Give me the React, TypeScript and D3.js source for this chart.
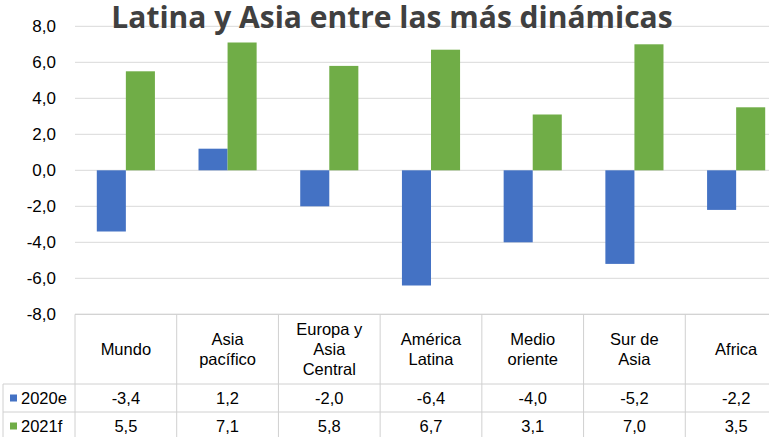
import React from "react";
import * as d3 from "d3";

const categories = [
  "Mundo",
  "Asia pacífico",
  "Europa y Asia Central",
  "América Latina",
  "Medio oriente",
  "Sur de Asia",
  "Africa",
];
const categoryLines = [
  ["Mundo"],
  ["Asia", "pacífico"],
  ["Europa y", "Asia", "Central"],
  ["América", "Latina"],
  ["Medio", "oriente"],
  ["Sur de", "Asia"],
  ["Africa"],
];
const seriesNames = ["2020e", "2021f"];
const values2020 = [-3.4, 1.2, -2.0, -6.4, -4.0, -5.2, -2.2];
const values2021 = [5.5, 7.1, 5.8, 6.7, 3.1, 7.0, 3.5];
const yTicks = [-8, -6, -4, -2, 0, 2, 4, 6, 8];
const colors = ["#4472C4", "#70AD47"];

const title = "Latina y Asia entre las más dinámicas";

const W = 769;
const H = 437;
const plotLeft = 75;
const plotRight = 787;
const plotTop = 26.3;
const plotBottom = 314.3;
const headerBottom = 384;
const row1Bottom = 412;
const row2Bottom = 440;
const legendLeft = 3;
const gridColor = "#D9D9D9";
const tableColor = "#D0D0D0";
const font = "'Liberation Sans', Arial, sans-serif";

const fmt = (v: number) => v.toFixed(1).replace(".", ",");

export default function App() {
  const x = d3.scaleBand<string>().domain(categories).range([plotLeft, plotRight]);
  const inner = d3
    .scaleBand<string>()
    .domain(seriesNames)
    .range([0, x.bandwidth()])
    .paddingInner(0)
    .paddingOuter(0.75);
  const y = d3.scaleLinear().domain([-8, 8]).range([plotBottom, plotTop]);

  const series = [values2020, values2021];
  const rowTops = [headerBottom, row1Bottom];
  const rowBottoms = [row1Bottom, row2Bottom];

  return (
    <div style={{ position: "fixed", left: 0, top: 0, width: W, height: H, overflow: "hidden", background: "#fff" }}>
      <svg width={W} height={H} style={{ display: "block" }}>
        {/* gridlines */}
        {yTicks.map((t) => (
          <line key={t} x1={plotLeft} x2={plotRight} y1={y(t)} y2={y(t)} stroke={gridColor} strokeWidth={1} />
        ))}
        {/* y labels */}
        {yTicks.map((t) => (
          <text
            key={"l" + t}
            x={56}
            y={y(t)}
            dy="0.35em"
            textAnchor="end"
            fontFamily={font}
            fontSize={17}
            fill="#000"
          >
            {fmt(t)}
          </text>
        ))}
        {/* bars */}
        {series.map((vals, si) =>
          vals.map((v, i) => {
            const bx = (x(categories[i]) ?? 0) + (inner(seriesNames[si]) ?? 0);
            return (
              <rect
                key={si + "-" + i}
                x={bx}
                y={Math.min(y(v), y(0))}
                width={inner.bandwidth()}
                height={Math.abs(y(v) - y(0))}
                fill={colors[si]}
              />
            );
          })
        )}
        {/* title */}
        <text
          x={392}
          y={28}
          textAnchor="middle"
          fontFamily="'Open Sans', sans-serif"
          fontWeight="bold"
          fontSize={30}
          fill="#404040"
        >
          {title}
        </text>
        {/* table lines */}
        <line x1={plotLeft} x2={plotRight} y1={plotBottom} y2={plotBottom} stroke={tableColor} />
        {[headerBottom, row1Bottom, row2Bottom].map((yy) => (
          <line key={"h" + yy} x1={legendLeft} x2={plotRight} y1={yy} y2={yy} stroke={tableColor} />
        ))}
        <line x1={legendLeft} x2={legendLeft} y1={headerBottom} y2={row2Bottom} stroke={tableColor} />
        {categories.map((c) => (
          <line
            key={"v" + c}
            x1={x(c)}
            x2={x(c)}
            y1={plotBottom}
            y2={row2Bottom}
            stroke={tableColor}
          />
        ))}
        <line x1={plotRight} x2={plotRight} y1={plotBottom} y2={row2Bottom} stroke={tableColor} />
        {/* header labels */}
        {categoryLines.map((lines, i) => {
          const cx = (x(categories[i]) ?? 0) + x.bandwidth() / 2;
          const mid = (plotBottom + headerBottom) / 2;
          const lh = 20;
          const start = mid - ((lines.length - 1) * lh) / 2;
          return lines.map((ln, j) => (
            <text
              key={i + "-" + j}
              x={cx}
              y={start + j * lh}
              dy="0.35em"
              textAnchor="middle"
              fontFamily={font}
              fontSize={16.5}
              fill="#000"
            >
              {ln}
            </text>
          ));
        })}
        {/* legend + values */}
        {series.map((vals, si) => {
          const cy = (rowTops[si] + rowBottoms[si]) / 2;
          return (
            <g key={"row" + si}>
              <rect x={10} y={cy - 3.5} width={7} height={7} fill={colors[si]} />
              <text x={21} y={cy} dy="0.35em" fontFamily={font} fontSize={16.5} fill="#000">
                {seriesNames[si]}
              </text>
              {vals.map((v, i) => (
                <text
                  key={i}
                  x={(x(categories[i]) ?? 0) + x.bandwidth() / 2}
                  y={cy}
                  dy="0.35em"
                  textAnchor="middle"
                  fontFamily={font}
                  fontSize={16.5}
                  fill="#000"
                >
                  {fmt(v)}
                </text>
              ))}
            </g>
          );
        })}
      </svg>
    </div>
  );
}
